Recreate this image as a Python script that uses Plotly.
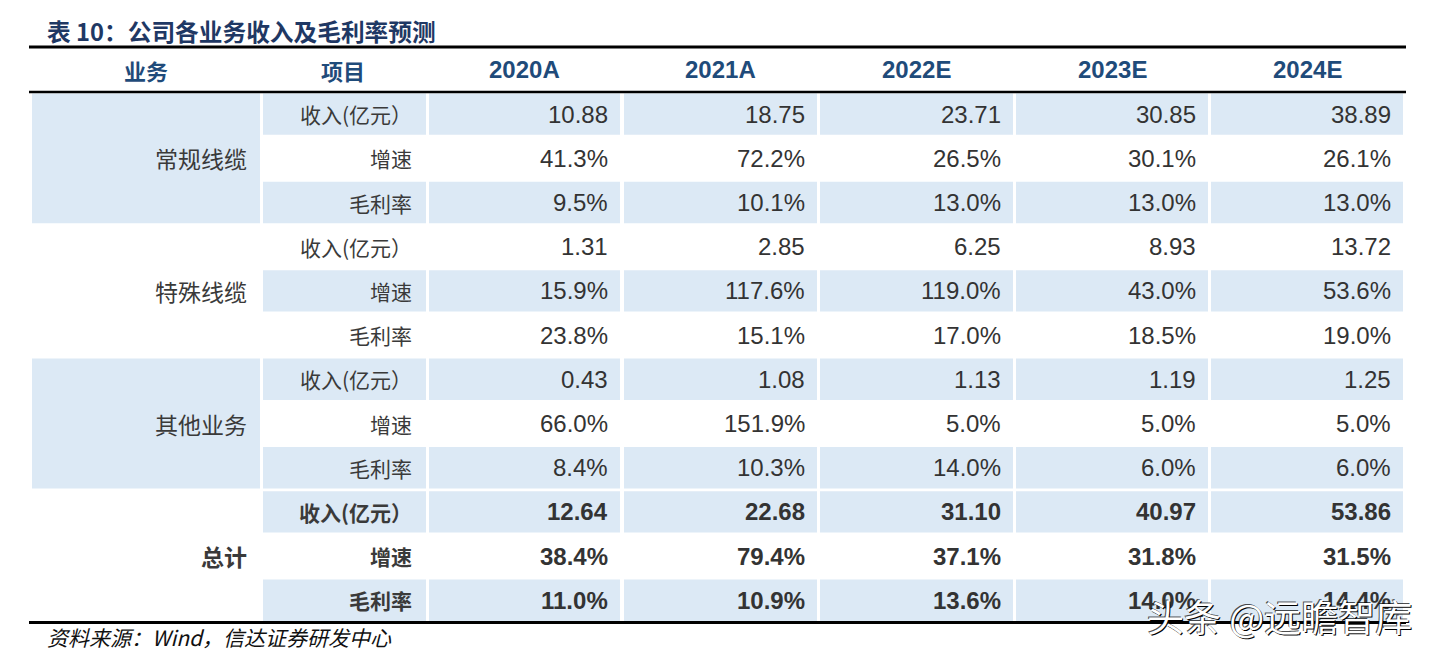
import plotly.graph_objects as go

# ---------------- data ----------------
title_text = "表 10：公司各业务收入及毛利率预测"
source_text = "资料来源：Wind，信达证券研发中心"
watermark_text = "头条 @远瞻智库"
header_segment = "业务"
header_item = "项目"
years = ["2020A", "2021A", "2022E", "2023E", "2024E"]
segments = ["常规线缆", "特殊线缆", "其他业务", "总计"]
items = ["收入(亿元）", "增速", "毛利率"]

revenue_regular = [10.88, 18.75, 23.71, 30.85, 38.89]
growth_regular = [41.3, 72.2, 26.5, 30.1, 26.1]
margin_regular = [9.5, 10.1, 13.0, 13.0, 13.0]

revenue_special = [1.31, 2.85, 6.25, 8.93, 13.72]
growth_special = [15.9, 117.6, 119.0, 43.0, 53.6]
margin_special = [23.8, 15.1, 17.0, 18.5, 19.0]

revenue_other = [0.43, 1.08, 1.13, 1.19, 1.25]
growth_other = [66.0, 151.9, 5.0, 5.0, 5.0]
margin_other = [8.4, 10.3, 14.0, 6.0, 6.0]

revenue_total = [12.64, 22.68, 31.10, 40.97, 53.86]
growth_total = [38.4, 79.4, 37.1, 31.8, 31.5]
margin_total = [11.0, 10.9, 13.6, 14.0, 14.4]

segment_series = [
    (revenue_regular, growth_regular, margin_regular),
    (revenue_special, growth_special, margin_special),
    (revenue_other, growth_other, margin_other),
    (revenue_total, growth_total, margin_total),
]

# ---------------- layout / style constants ----------------
W, H = 1432, 656
PAGE_OFFSET = 8  # default body margin of the html page
cell_left = [32, 263, 429, 624, 820, 1016, 1211]
cell_right = [260, 426, 620, 817, 1013, 1208, 1403]
rule_x0, rule_x1 = 29, 1406
header_top, header_bottom = 47, 92
row_h = 44.2
blue = "#DCE9F5"
num_color = "#333333"
cjk_color = "#3a3a3a"
head_color = "#1F4B7A"
title_color = "#1F3864"
shaded_rows = {0, 2, 4, 6, 8, 9, 11}
shaded_segments = {0, 2}
num_font = "Arial, 'Liberation Sans', sans-serif"
cjk_font = "'Noto Sans CJK SC', sans-serif"

fig = go.Figure()
shapes = []
annotations = []


def row_top(i):
    return header_bottom + i * row_h


# cell backgrounds
for r in range(12):
    if r in shaded_rows:
        for c in range(1, 7):
            shapes.append(dict(type="rect", xref="x", yref="y",
                               x0=cell_left[c], x1=cell_right[c],
                               y0=row_top(r) + 1.4, y1=row_top(r) + row_h - 1.4,
                               fillcolor=blue, line=dict(width=0), layer="below"))
for s in range(4):
    if s in shaded_segments:
        shapes.append(dict(type="rect", xref="x", yref="y",
                           x0=cell_left[0], x1=cell_right[0],
                           y0=row_top(3 * s) + 1.4, y1=row_top(3 * s + 3) - 1.4,
                           fillcolor=blue, line=dict(width=0), layer="below"))

# rules
for y, w in [(header_top, 3), (header_bottom, 2.6), (row_top(12), 3)]:
    shapes.append(dict(type="line", xref="x", yref="y", x0=rule_x0, x1=rule_x1,
                       y0=y, y1=y, line=dict(color="black", width=w)))

# header
hy = (header_top + header_bottom) / 2
annotations.append(dict(x=(cell_left[0] + cell_right[0]) / 2, y=hy, text="<b>" + header_segment + "</b>",
                        font=dict(family=cjk_font, size=22, color=head_color)))
annotations.append(dict(x=(cell_left[1] + cell_right[1]) / 2 - 2, y=hy, text="<b>" + header_item + "</b>",
                        font=dict(family=cjk_font, size=22, color=head_color)))
for j, yr in enumerate(years):
    annotations.append(dict(x=(cell_left[j + 2] + cell_right[j + 2]) / 2, y=hy, text="<b>" + yr + "</b>",
                            font=dict(family=num_font, size=24, color=head_color)))

# body
for s, seg in enumerate(segments):
    bold = seg == "总计"
    wrap = (lambda t: "<b>" + t + "</b>") if bold else (lambda t: t)
    annotations.append(dict(x=cell_right[0] - 11, y=row_top(3 * s + 1) + row_h / 2, text=wrap(seg),
                            xanchor="right", font=dict(family=cjk_font, size=23, color=cjk_color)))
    for k, item in enumerate(items):
        r = 3 * s + k
        yc = row_top(r) + row_h / 2
        annotations.append(dict(x=cell_right[1] - 12, y=yc, text=wrap(item), xanchor="right",
                                font=dict(family=cjk_font, size=21, color=cjk_color)))
        vals = segment_series[s][k]
        for j, v in enumerate(vals):
            txt = f"{v:.2f}" if k == 0 else f"{v:.1f}%"
            annotations.append(dict(x=cell_right[j + 2] - 10, y=yc, text=wrap(txt), xanchor="right",
                                    font=dict(family=num_font, size=24, color=num_color)))

# title & source
annotations.append(dict(x=45, y=31, text="<b>" + title_text + "</b>", xanchor="left",
                        font=dict(family=cjk_font, size=23.7, color=title_color)))
annotations.append(dict(x=45, y=637, text="<i>" + source_text + "</i>", xanchor="left",
                        font=dict(family=cjk_font, size=21, color="#111111")))
# watermark
annotations.append(dict(x=1414, y=616, text=watermark_text, xanchor="right",
                        font=dict(family=cjk_font, size=37, color="white",
                                  shadow="1px 1px 0px #000, -1px -1px 0px rgba(0,0,0,0.7)")))

for a in annotations:
    a.setdefault("xref", "x")
    a.setdefault("yref", "y")
    a.setdefault("showarrow", False)
    a.setdefault("yanchor", "middle")

fig.update_layout(
    width=W - PAGE_OFFSET, height=H - PAGE_OFFSET,
    margin=dict(l=0, r=0, t=0, b=0),
    paper_bgcolor="white", plot_bgcolor="white",
    xaxis=dict(range=[PAGE_OFFSET, W], visible=False, fixedrange=True),
    yaxis=dict(range=[H, PAGE_OFFSET], visible=False, fixedrange=True),
    shapes=shapes, annotations=annotations,
    showlegend=False,
)
fig.write_html("out.html", config={"displayModeBar": False})
